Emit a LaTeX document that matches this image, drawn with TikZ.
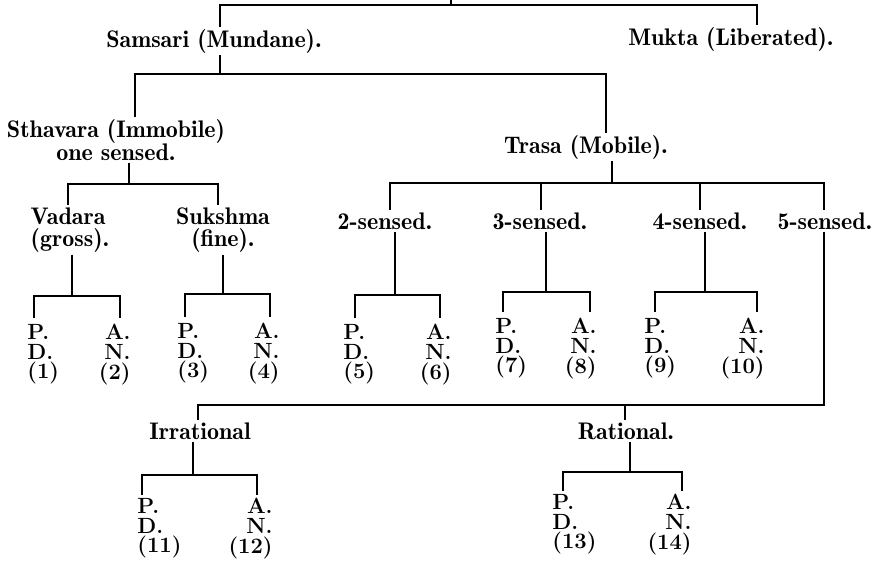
\documentclass[tikz,border=0pt]{standalone}
\usetikzlibrary{positioning}

\tikzset{
  br/.style={line width=0.8pt},
  lbl/.style={font=\fontseries{b}\fontsize{12}{13}\selectfont, inner sep=1pt},
  leaf/.style={font=\bfseries\fontsize{11}{9.8}\selectfont, inner xsep=0pt, inner ysep=3pt},
  leafl/.style={leaf, align=left, anchor=north west},
  leafr/.style={leaf, align=right, anchor=north east},
  tight/.style={font=\bfseries\fontsize{11}{9.8}\selectfont, inner ysep=1.5pt}
}

\begin{document}
\begin{tikzpicture}[x=0.5pt,y=-0.5pt]
\useasboundingbox (0,0) rectangle (888,564);

%classes
\node[lbl] (samsari) at (214,41) {Samsari (Mundane).};
\node[lbl] (mukta) at (731,39) {Mukta (Liberated).};
\node[lbl,align=center,font=\fontseries{b}\fontsize{12}{11.5}\selectfont] (sthavara) at (116,140) {Sthavara (Immobile)\\one sensed.};
\node[lbl,align=left,font=\fontseries{b}\fontsize{12}{11}\selectfont] (vadara) at (70,230) {Vadara\\(gross).};
\node[lbl,align=center,font=\fontseries{b}\fontsize{12}{11}\selectfont] (sukshma) at (223,230) {Sukshma\\(fine).};
\node[lbl] (trasa) at (586,147) {Trasa (Mobile).};
\node[lbl] (sense2) at (385,221) {2-sensed.};
\node[lbl] (sense3) at (540,221) {3-sensed.};
\node[lbl] (sense4) at (700,221) {4-sensed.};
\node[lbl] (sense5) at (825,221) {5-sensed.};
\node[lbl] (irr) at (200,431) {Irrational};
\node[lbl] (rat) at (626,431) {Rational.};

%leaves
\node[leafl] (pd1) at (27,318) {P.\\D.\\(1)};
\node[leafr] (an2) at (131,318) {A.\\N.\\(2)};
\node[leafl] (pd3) at (177,317) {P.\\D.\\(3)};
\node[leafr] (an4) at (280,317) {A.\\N.\\(4)};
\node[leafl] (pd5) at (343,318) {P.\\D.\\(5)};
\node[leafr] (an6) at (452,318) {A.\\N.\\(6)};
\node[leafl] (pd7) at (495,312) {P.\\D.\\(7)};
\node[leafr] (an8) at (597,312) {A.\\N.\\(8)};
\node[leafl] (pd9) at (644,312) {P.\\D.\\(9)};
\node[leafr] (an10) at (765,312) {A.\\N.\\(10)};
\node[leafl,tight] (pd11) at (137,495) {P.\\D.\\(11)};
\node[leafr,tight] (an12) at (273,495) {A.\\N.\\(12)};
\node[leafl,tight] (pd13) at (552,491) {P.\\D.\\(13)};
\node[leafr,tight] (an14) at (692,491) {A.\\N.\\(14)};

%bars
\coordinate (root) at (451,0);
\coordinate (t1) at (220,5);
\coordinate (t2) at (757,5);
\coordinate (b2l) at (135,74);
\coordinate (b2r) at (606,74);
\coordinate (b3) at (129,184);
\coordinate (b3l) at (68,184);
\coordinate (b3r) at (218,184);
\coordinate (b4) at (612,183);
\coordinate (b4a) at (390,183);
\coordinate (b4b) at (541,183);
\coordinate (b4c) at (700,183);
\coordinate (b4d) at (824,183);
\coordinate (b5l) at (198,405);
\coordinate (b5m) at (625,405);
\coordinate (b5r) at (824,405);

\draw[br] (root) -- (root |- t1);
\draw[br] (t1 |- samsari.north) -- (t1) -- (t2) -- (t2 |- mukta.north);
\draw[br] (samsari.south -| t1) -- (t1 |- b2l);
\draw[br] (b2l |- sthavara.north) -- (b2l) -- (b2r) -- (b2r |- trasa.north);
\draw[br] (sthavara.south -| b3) -- (b3);
\draw[br] (b3l |- vadara.north) -- (b3l) -- (b3r) -- (b3r |- sukshma.north);
\draw[br] (trasa.south -| b4) -- (b4);
\draw[br] (b4a |- sense2.north) -- (b4a) -- (b4d) -- (b4d |- sense5.north);
\draw[br] (b4b) -- (b4b |- sense3.north);
\draw[br] (b4c) -- (b4c |- sense4.north);
\draw[br] (sense5.south -| b5r) -- (b5r) -- (b5l) -- (b5l |- irr.north);
\draw[br] (b5m) -- (b5m |- rat.north);

%leaf bars
\coordinate (g1l) at (34,296);   \coordinate (g1r) at (120,296);
\coordinate (g2l) at (185,294);  \coordinate (g2r) at (270,294);
\coordinate (g3l) at (355,295);  \coordinate (g3r) at (440,295);
\coordinate (g4l) at (503,292);  \coordinate (g4r) at (590,292);
\coordinate (g5l) at (655,292);  \coordinate (g5r) at (757,292);
\coordinate (g6l) at (142,475);  \coordinate (g6r) at (257,475);
\coordinate (g7l) at (563,472);  \coordinate (g7r) at (682,472);

\draw[br] (vadara.south -| 72,0) -- (72,0 |- g1l);
\draw[br] (pd1.north -| g1l) -- (g1l) -- (g1r) -- (an2.north -| g1r);
\draw[br] (sukshma.south) -- (sukshma.south |- g2l);
\draw[br] (pd3.north -| g2l) -- (g2l) -- (g2r) -- (an4.north -| g2r);
\draw[br] (sense2.south -| 395,0) -- (395,0 |- g3l);
\draw[br] (pd5.north -| g3l) -- (g3l) -- (g3r) -- (an6.north -| g3r);
\draw[br] (sense3.south -| 546,0) -- (546,0 |- g4l);
\draw[br] (pd7.north -| g4l) -- (g4l) -- (g4r) -- (an8.north -| g4r);
\draw[br] (sense4.south -| 705,0) -- (705,0 |- g5l);
\draw[br] (pd9.north -| g5l) -- (g5l) -- (g5r) -- (an10.north -| g5r);
\draw[br] (irr.south -| 193,0) -- (193,0 |- g6l);
\draw[br] (pd11.north -| g6l) -- (g6l) -- (g6r) -- (an12.north -| g6r);
\draw[br] (rat.south -| 630,0) -- (630,0 |- g7l);
\draw[br] (pd13.north -| g7l) -- (g7l) -- (g7r) -- (an14.north -| g7r);
\end{tikzpicture}
\end{document}
